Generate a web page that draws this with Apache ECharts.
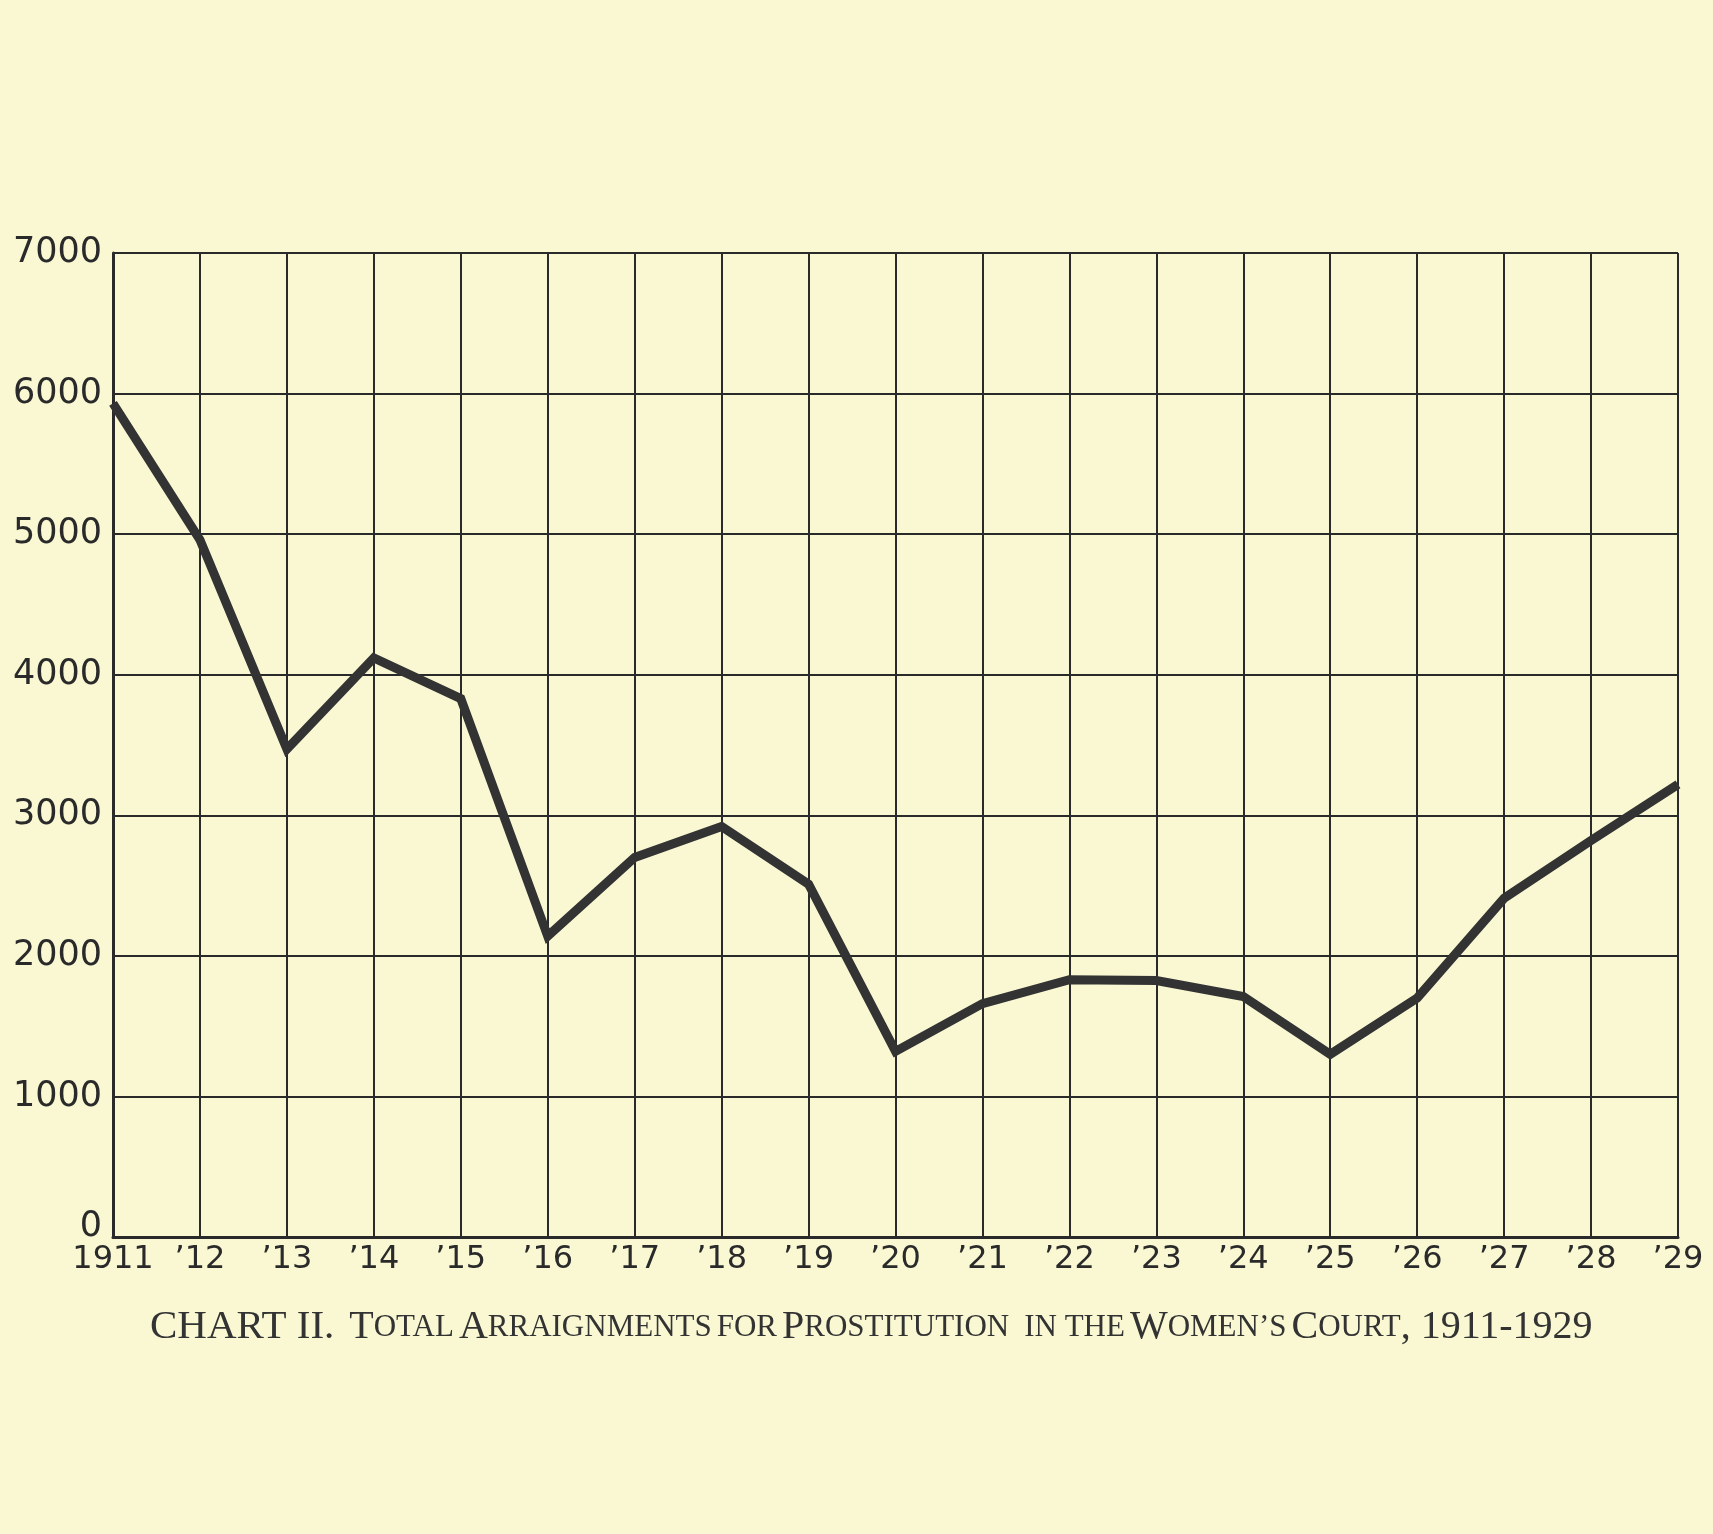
<!DOCTYPE html>
<html>
<head>
<meta charset="utf-8">
<script src="https://cdn.jsdelivr.net/npm/echarts@6/dist/echarts.min.js"></script>
<style>
  html, body { margin: 0; padding: 0; background: #F9F8D3; }
  #chart { width: 1713px; height: 1534px; }
</style>
</head>
<body>
<div id="chart"></div>
<script>
const years = ['1911','1912','1913','1914','1915','1916','1917','1918','1919','1920','1921','1922','1923','1924','1925','1926','1927','1928','1929'];
const yearLabels = ['1911','\u201912','\u201913','\u201914','\u201915','\u201916','\u201917','\u201918','\u201919','\u201920','\u201921','\u201922','\u201923','\u201924','\u201925','\u201926','\u201927','\u201928','\u201929'];
const arraignments = [5930, 4960, 3470, 4120, 3830, 2140, 2700, 2920, 2510, 1320, 1660, 1830, 1825, 1710, 1300, 1700, 2410, 2820, 3220];
const yTicks = [0, 1000, 2000, 3000, 4000, 5000, 6000, 7000];

const ink = '#2a2a2a';
const chart = echarts.init(document.getElementById('chart'));
chart.setOption({
  backgroundColor: '#F9F8D3',
  animation: false,
  title: {
    left: 145,
    top: 1302,
    text: '{a|CHART II.}   {b|T}{s|OTAL} {b|A}{s|RRAIGNMENTS} {s|FOR} {b|P}{s|ROSTITUTION}   {s|IN THE} {b|W}{s|OMEN\u2019S} {b|C}{s|OURT}{b|, 1911-1929}',
    textStyle: {
      fontWeight: 'normal',
      rich: {
        a: { fontFamily: 'Liberation Serif', fontWeight: 'normal', fontSize: 41, color: '#333' },
        b: { fontFamily: 'Liberation Serif', fontWeight: 'normal', fontSize: 40, color: '#333' },
        s: { fontFamily: 'Liberation Serif', fontWeight: 'normal', fontSize: 31, color: '#333' }
      }
    }
  },
  grid: { left: 113, right: 35, top: 253, bottom: 297, containLabel: false },
  xAxis: {
    type: 'category',
    data: years,
    boundaryGap: false,
    axisLine: { show: true, lineStyle: { color: ink, width: 3 } },
    axisTick: { show: false },
    axisLabel: {
      interval: 0,
      margin: 7,
      fontFamily: 'DejaVu Sans',
      fontSize: 32,
      color: ink,
      formatter: function (v, i) { return yearLabels[i]; }
    },
    splitLine: { show: true, interval: 0, lineStyle: { color: ink, width: 2 } }
  },
  yAxis: {
    type: 'value',
    min: yTicks[0],
    max: yTicks[yTicks.length - 1],
    interval: 1000,
    axisLine: { show: true, lineStyle: { color: ink, width: 3 } },
    axisTick: { show: false },
    axisLabel: {
      margin: 11,
      fontFamily: 'DejaVu Sans',
      fontSize: 35,
      color: ink,
      formatter: function (v) { return v === 0 ? '{z|0}' : String(v); },
      rich: { z: { fontFamily: 'DejaVu Sans', fontSize: 35, color: ink, padding: [0, 0, 20, 0] } }
    },
    splitLine: { show: true, lineStyle: { color: ink, width: 2 } }
  },
  series: [{
    type: 'line',
    data: arraignments,
    symbol: 'none',
    lineStyle: { color: '#333333', width: 9, join: 'miter', miterLimit: 10 },
    z: 3
  }]
});
</script>
</body>
</html>
